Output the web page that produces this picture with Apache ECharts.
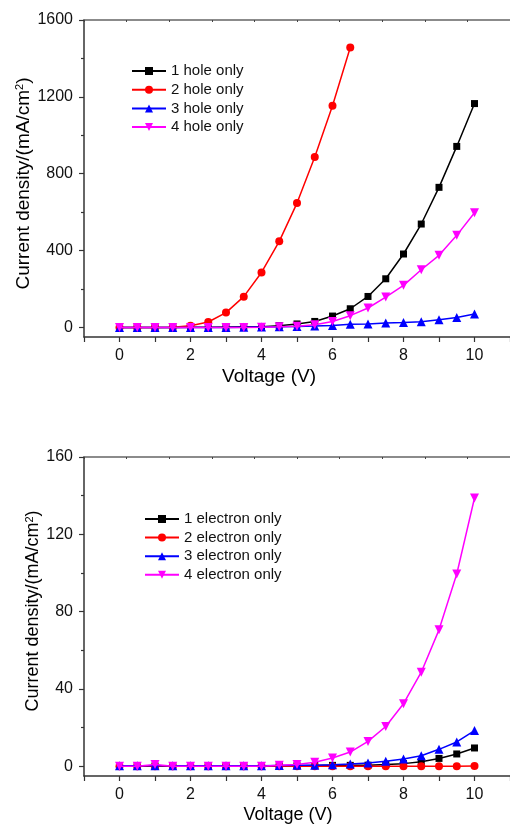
<!DOCTYPE html>
<html>
<head>
<meta charset="utf-8">
<script src="https://cdn.jsdelivr.net/npm/echarts@6/dist/echarts.min.js"></script>
<style>
html,body{margin:0;padding:0;background:#fff;}
#c{width:510px;height:824px;}
</style>
</head>
<body>
<div id="c"></div>
<script>
// ---- data ----
const voltage = [0,0.5,1,1.5,2,2.5,3,3.5,4,4.5,5,5.5,6,6.5,7,7.5,8,8.5,9,9.5,10];

const holeNames = ['1 hole only','2 hole only','3 hole only','4 hole only'];
const hole1 = [0,0,0,0,1,1,2,3,4,9,18,31,59,97,161,253,382,538,729,942,1165];
const hole2 = [0,0,0,1,8,28,77,160,286,448,647,887,1154,1457];
const hole3 = [0,0,0,0,0,0,0,1,2,3,5,7,10,16,18,23,26,30,40,52,70];
const hole4 = [0,0,0,0,0,0,0,0,1,3,6,14,31,61,101,158,219,300,375,479,597];

const elecNames = ['1 electron only','2 electron only','3 electron only','4 electron only'];
const elec1 = [0.2,0.2,0.2,0.2,0.2,0.2,0.2,0.2,0.2,0.3,0.3,0.4,0.5,0.5,0.6,0.9,1.4,2.4,4.1,6.4,9.5];
const elec2 = [0.1,0.1,0.1,0.1,0.1,0.1,0.1,0.1,0.1,0.1,0.1,0.1,0.1,0.1,0.1,0.1,0.1,0.1,0.1,0.1,0.2];
const elec3 = [0.3,0.3,0.3,0.3,0.3,0.3,0.3,0.3,0.3,0.4,0.5,0.6,0.8,1.2,1.7,2.6,3.8,5.5,8.8,12.6,18.5];
const elec4 = [0,0,1,0,0,0,0,0,0,0.5,1.0,2.1,4.3,7.4,12.9,20.6,32.4,48.7,70.6,99.5,138.8];

const holeYLabels = [0,400,800,1200,1600];
const holeYMinor = [200,600,1000,1400];
const elecYLabels = [0,40,80,120,160];
const elecYMinor = [20,60,100,140];

const colors = ['#000000','#FF0000','#0000FF','#FF00FF'];
const symbols = ['rect','circle','triangle','triangle'];
const symbolSizes = [7,8,9,9];
const rotations = [0,0,0,180];

// ---- chart ----
const FONT = 'Liberation Sans, Arial, sans-serif';
const axisCol = '#333';
function pairs(ys){ return ys.map((y,i)=>[voltage[i], y]); }

function xAxisDef(gi, nameSize, padRight){
  return {
    gridIndex: gi, type:'value', min:-1, max:11, interval:1,
    name:'Voltage (V)', nameLocation:'middle', nameGap:30, nameMoveOverlap:false,
    nameTextStyle:{fontFamily:FONT, fontSize:nameSize, color:'#000', padding:[0,padRight,0,0]},
    axisLine:{show:true, onZero:false, lineStyle:{color:axisCol, width:1.5}},
    axisTick:{show:true, inside:false, length:5, lineStyle:{color:axisCol, width:1.2}},
    axisLabel:{fontFamily:FONT, fontSize:16, color:'#111', margin:11,
      formatter:v=> (v>=0 && v<=10 && v%2===0) ? String(v) : ''},
    splitLine:{show:false}
  };
}
function topAxisDef(gi){
  return {
    gridIndex: gi, type:'value', position:'top', min:0, max:10, interval:1,
    axisLine:{show:true, onZero:false, lineStyle:{color:'#666', width:1.5}},
    axisTick:{show:true, inside:true, length:2, lineStyle:{color:'#444', width:1}},
    axisLabel:{show:false}, splitLine:{show:false}
  };
}
function yAxisDef(gi, min, max, labels, nameSize, nameGap, pad){
  return {
    gridIndex: gi, type:'value', min:min, max:max,
    name:'Current density/(mA/cm{sup|2})', nameLocation:'middle', nameRotate:90, nameGap:nameGap,
    nameMoveOverlap:false,
    nameTextStyle:{fontFamily:FONT, fontSize:nameSize, color:'#000', padding:pad,
      rich:{sup:{fontFamily:FONT, fontSize:Math.round(nameSize*0.6), verticalAlign:'top', color:'#000'}}},
    axisLine:{show:true, onZero:false, lineStyle:{color:axisCol, width:1.5}},
    axisTick:{show:true, inside:false, length:5, customValues:labels, lineStyle:{color:axisCol, width:1.2}},
    axisLabel:{fontFamily:FONT, fontSize:16, color:'#111', margin:11, customValues:labels,
      formatter:v=>String(v)},
    splitLine:{show:false}
  };
}
function yMinorDef(gi, min, max, minor){
  return {
    gridIndex: gi, type:'value', min:min, max:max, position:'left',
    axisLine:{show:false, onZero:false},
    axisTick:{show:true, inside:false, length:3, customValues:minor, lineStyle:{color:axisCol, width:1.2}},
    axisLabel:{show:false, customValues:minor}, splitLine:{show:false}
  };
}
function seriesDef(name, ys, k, xi, yi){
  return {
    name:name, type:'line', xAxisIndex:xi, yAxisIndex:yi, data:pairs(ys),
    symbol:symbols[k], symbolSize:symbolSizes[k], symbolRotate:rotations[k], showSymbol:true,
    lineStyle:{color:colors[k], width:1.5}, itemStyle:{color:colors[k]},
    animation:false, z:2+k
  };
}

const chart = echarts.init(document.getElementById('c'), null, {renderer:'canvas'});
const holeData = [hole1,hole2,hole3,hole4];
const elecData = [elec1,elec2,elec3,elec4];
const series = [];
holeData.forEach((d,k)=>series.push(seriesDef(holeNames[k], d, k, 0, 0)));
elecData.forEach((d,k)=>series.push(seriesDef(elecNames[k], d, k, 2, 2)));

chart.setOption({
  animation:false,
  backgroundColor:'#fff',
  grid:[
    {left:84, top:20, width:426, height:317, containLabel:false, outerBoundsMode:'none'},
    {left:84, top:457, width:426, height:319, containLabel:false, outerBoundsMode:'none'}
  ],
  xAxis:[ xAxisDef(0, 19, 56), topAxisDef(0), xAxisDef(1, 18, 18), topAxisDef(1) ],
  yAxis:[
    yAxisDef(0, -50, 1600, holeYLabels, 19, 51, [0,10,0,0]),
    yMinorDef(0, -50, 1600, holeYMinor),
    yAxisDef(1, -5, 160, elecYLabels, 18, 42, [0,0,0,11]),
    yMinorDef(1, -5, 160, elecYMinor)
  ],
  legend:[
    {data:holeNames, orient:'vertical', left:131, top:63, padding:0, itemWidth:34, itemHeight:10, itemGap:2.7,
     textStyle:{fontFamily:FONT, fontSize:15, color:'#111', lineHeight:16}},
    {data:elecNames, orient:'vertical', left:144, top:511, padding:0, itemWidth:34, itemHeight:10, itemGap:2.6,
     textStyle:{fontFamily:FONT, fontSize:15, color:'#111', lineHeight:16}}
  ],
  series:series
});
</script>
</body>
</html>
